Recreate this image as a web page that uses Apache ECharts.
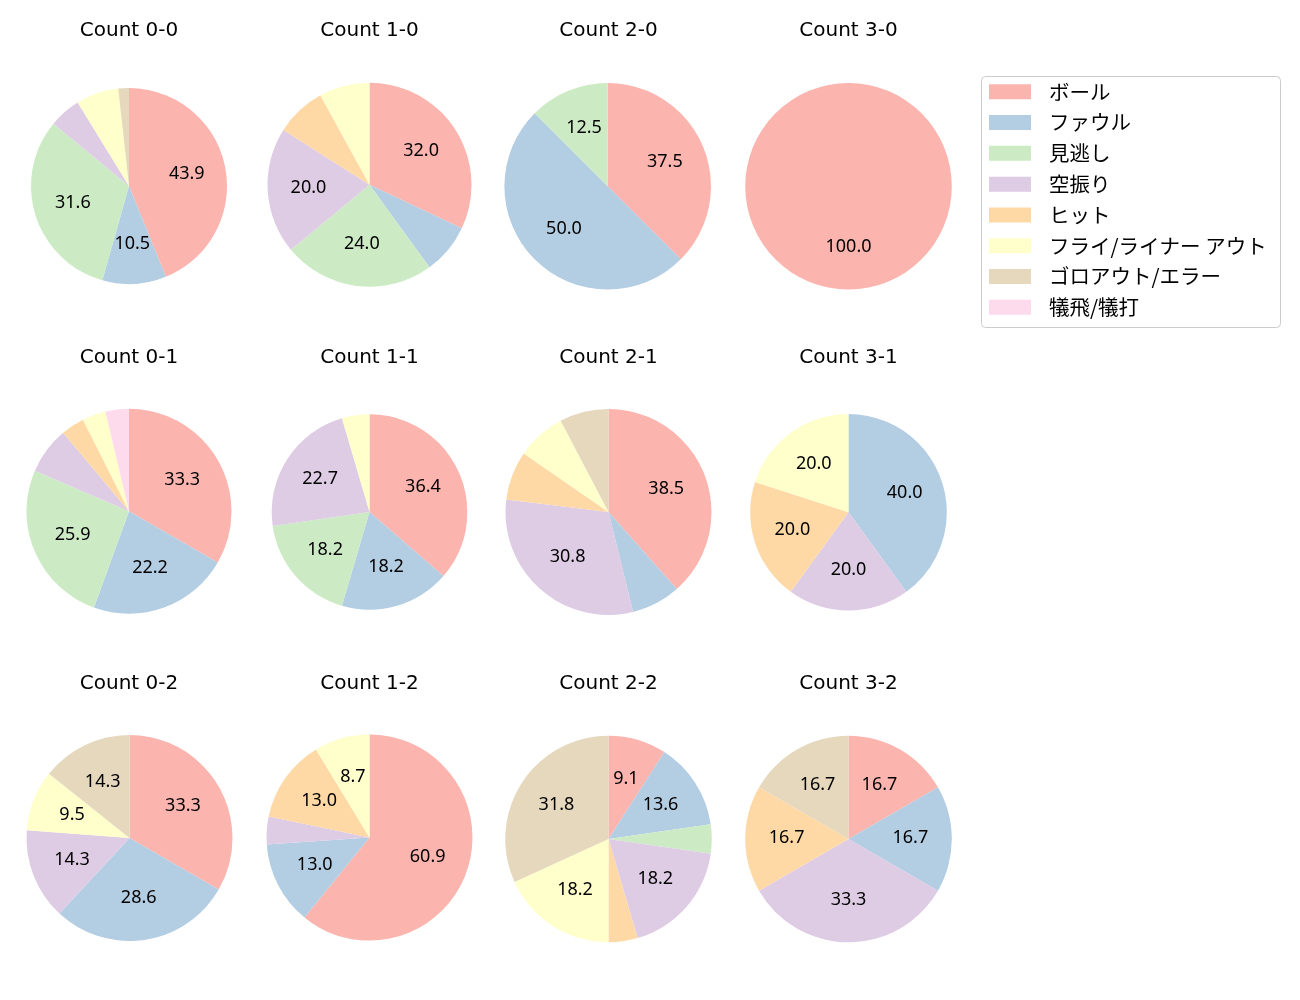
<!DOCTYPE html>
<html>
<head>
<meta charset="utf-8">
<script src="https://cdn.jsdelivr.net/npm/echarts@6/dist/echarts.min.js"></script>
<style>
html,body{margin:0;padding:0;background:#fff;}
#chart{width:1300px;height:1000px;}
</style>
</head>
<body>
<div id="chart"></div>
<script>
const categories = ['ボール','ファウル','見逃し','空振り','ヒット','フライ/ライナー アウト','ゴロアウト/エラー','犠飛/犠打'];
const palette = ['#fbb4ae','#b3cde3','#ccebc5','#decbe4','#fed9a6','#ffffcc','#e5d8bd','#fddaec'];
const pieTitles = ['Count 0-0','Count 1-0','Count 2-0','Count 3-0','Count 0-1','Count 1-1','Count 2-1','Count 3-1','Count 0-2','Count 1-2','Count 2-2','Count 3-2'];
// counts per category (same order as categories)
const count00 = [25, 6, 18, 3, 0, 4, 1, 0];
const count10 = [8, 2, 6, 5, 2, 2, 0, 0];
const count20 = [3, 4, 1, 0, 0, 0, 0, 0];
const count30 = [1, 0, 0, 0, 0, 0, 0, 0];
const count01 = [9, 6, 7, 2, 1, 1, 0, 1];
const count11 = [8, 4, 4, 5, 0, 1, 0, 0];
const count21 = [5, 1, 0, 4, 1, 1, 1, 0];
const count31 = [0, 2, 0, 1, 1, 1, 0, 0];
const count02 = [7, 6, 0, 3, 0, 2, 3, 0];
const count12 = [14, 3, 0, 1, 3, 2, 0, 0];
const count22 = [2, 3, 1, 4, 1, 4, 7, 0];
const count32 = [1, 1, 0, 2, 1, 0, 1, 0];
const pieCounts = [count00,count10,count20,count30,count01,count11,count21,count31,count02,count12,count22,count32];

// layout
const colX = [129, 369.5, 608.5, 848.5];
const rowY = [186, 512, 839];
const titleY = [29, 356, 682];
const radii = [98, 102, 103.3, 103.3, 102.5, 97.8, 103, 98.3, 103, 103, 103.3, 103.3];
const centerAdj = [[0,0],[0,-1.3],[-0.8,0.3],[0,0.3],[0,-0.7],[0,0],[0,0],[0,0.3],[0.5,-1],[0,-1.5],[0,0],[0,0]];
const LATIN = '"DejaVu Sans", sans-serif';
const LABELF = '"Noto Sans", sans-serif';
const CJK = '"Noto Sans CJK JP", "Noto Sans", sans-serif';

const chart = echarts.init(document.getElementById('chart'), null, {renderer:'canvas'});
const series = [];
const titles = [];
pieCounts.forEach((counts, i) => {
  const r = Math.floor(i / 4), c = i % 4;
  const cx = colX[c] + centerAdj[i][0], cy = rowY[r] + centerAdj[i][1];
  const R = radii[i];
  const total = counts.reduce((a, b) => a + b, 0);
  const data = categories.map((name, k) => ({name, value: counts[k]}));
  series.push({
    type: 'pie', center: [cx, cy], radius: R, startAngle: 90, clockwise: true,
    data: data, label: {show: false}, labelLine: {show: false}, silent: true,
    itemStyle: {borderWidth: 0}, emphasis: {disabled: true}, animation: false
  });
  series.push({
    type: 'pie', center: [cx, cy - 1], radius: [R * 0.14, R], startAngle: 90, clockwise: true,
    data: data.map(d => ({name: d.name + ' ', value: d.value})),
    itemStyle: {color: 'rgba(0,0,0,0)', borderWidth: 0}, silent: true, animation: false,
    avoidLabelOverlap: false, emphasis: {disabled: true},
    labelLine: {show: false},
    label: {
      show: true, position: 'inside', color: '#000', fontSize: 18, fontFamily: LABELF,
      formatter: p => {
        const pct = 100 * p.value / total;
        return pct > 8 ? pct.toFixed(1) : '';
      }
    }
  });
  titles.push({
    text: pieTitles[i], left: colX[c], top: titleY[r] - 8.5, textAlign: 'center', padding: 0,
    textStyle: {fontSize: 20, fontWeight: 'normal', color: '#000', fontFamily: LATIN}
  });
});

chart.setOption({
  color: palette,
  animation: false,
  title: titles,
  legend: {
    data: categories, orient: 'vertical', left: 989, top: 81.5, padding: 0,
    itemWidth: 42, itemHeight: 15, itemGap: 10.3, icon: 'rect', selectedMode: false,
    textStyle: {fontSize: 20.5, lineHeight: 20, color: '#000', fontFamily: CJK, padding: [0,0,0,13]}
  },
  graphic: [{
    type: 'rect', shape: {x: 981.5, y: 76.5, width: 299, height: 251, r: 4},
    style: {fill: 'none', stroke: '#cccccc', lineWidth: 1}, silent: true, z: -1
  }],
  series: series
});
</script>
</body>
</html>
